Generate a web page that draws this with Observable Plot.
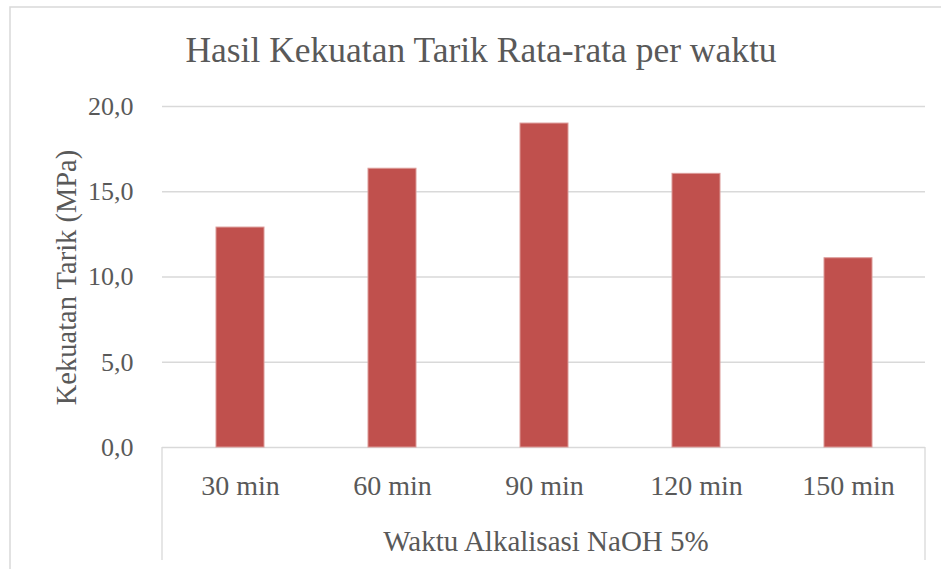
<!DOCTYPE html>
<html>
<head>
<meta charset="utf-8">
<script src="https://cdn.jsdelivr.net/npm/d3@7"></script>
<script src="https://cdn.jsdelivr.net/npm/@observablehq/plot@0.6"></script>
<style>
  html, body { margin: 0; padding: 0; background: #fff; }
  #chart { width: 941px; height: 569px; overflow: hidden; }
</style>
</head>
<body>
<div id="chart"></div>
<script>
const categories = ["30 min", "60 min", "90 min", "120 min", "150 min"];
const values = [12.9, 16.35, 19.0, 16.05, 11.1];
const yTicks = [0, 5, 10, 15, 20];
const title = "Hasil Kekuatan Tarik Rata-rata per waktu";
const xTitle = "Waktu Alkalisasi NaOH 5%";
const yTitle = "Kekuatan Tarik (MPa)";

const data = categories.map((c, i) => ({cat: c, val: values[i]}));
const fmt = d => d.toFixed(1).replace(".", ",");
const FONT = "'Liberation Serif', 'Times New Roman', serif";
const TEXT = "#595959";
const GRID = "#d9d9d9";

const W = 941, H = 569;
const mL = 162, mR = 16, mT = 106, mB = 122;

const plot = Plot.plot({
  width: W,
  height: H,
  marginLeft: mL,
  marginRight: mR,
  marginTop: mT,
  marginBottom: mB,
  style: {fontFamily: FONT, color: TEXT, background: "white", overflow: "visible"},
  x: {domain: categories, paddingInner: 0.685, paddingOuter: 0.3425, label: null},
  y: {domain: [0, 20], label: null},
  marks: [
    Plot.ruleY(yTicks, {stroke: GRID, strokeWidth: 1.3}),
    Plot.barY(data, {x: "cat", y: "val", fill: "#c0504d", stroke: "#dc9a98", strokeWidth: 1}),
    Plot.axisY({ticks: yTicks, tickFormat: fmt, tickSize: 0, tickPadding: 29, fontSize: 26, label: null, fill: TEXT}),
    Plot.axisX({tickSize: 0, tickPadding: 28, fontSize: 28, label: null, fill: TEXT})
  ]
});

document.getElementById("chart").appendChild(plot);

const svg = d3.select(plot);
const xs = plot.scale("x").range;
const ys = plot.scale("y").range;
const x0 = Math.min(...xs), x1 = Math.max(...xs);
const yBase = Math.max(...ys);

// chart border
svg.insert("rect", ":first-child")
  .attr("x", 10).attr("y", 7).attr("width", W + 40).attr("height", H + 40)
  .attr("fill", "white").attr("stroke", GRID).attr("stroke-width", 1.5);

// category axis boundary lines
[x0, x1].forEach(xv => {
  svg.append("line")
    .attr("x1", xv).attr("x2", xv).attr("y1", yBase).attr("y2", yBase + 113)
    .attr("stroke", GRID).attr("stroke-width", 1.3);
});

// title
svg.append("text")
  .attr("x", 481).attr("y", 62)
  .attr("text-anchor", "middle")
  .attr("font-family", FONT).attr("font-size", 35.5).attr("fill", TEXT)
  .text(title);

// x axis title
svg.append("text")
  .attr("x", 546).attr("y", 551)
  .attr("text-anchor", "middle")
  .attr("font-family", FONT).attr("font-size", 29).attr("fill", TEXT)
  .text(xTitle);

// y axis title
svg.append("text")
  .attr("transform", `translate(76, ${(Math.min(...ys) + yBase) / 2 + 1}) rotate(-90)`)
  .attr("text-anchor", "middle")
  .attr("font-family", FONT).attr("font-size", 28.5).attr("fill", TEXT)
  .text(yTitle);
</script>
</body>
</html>
